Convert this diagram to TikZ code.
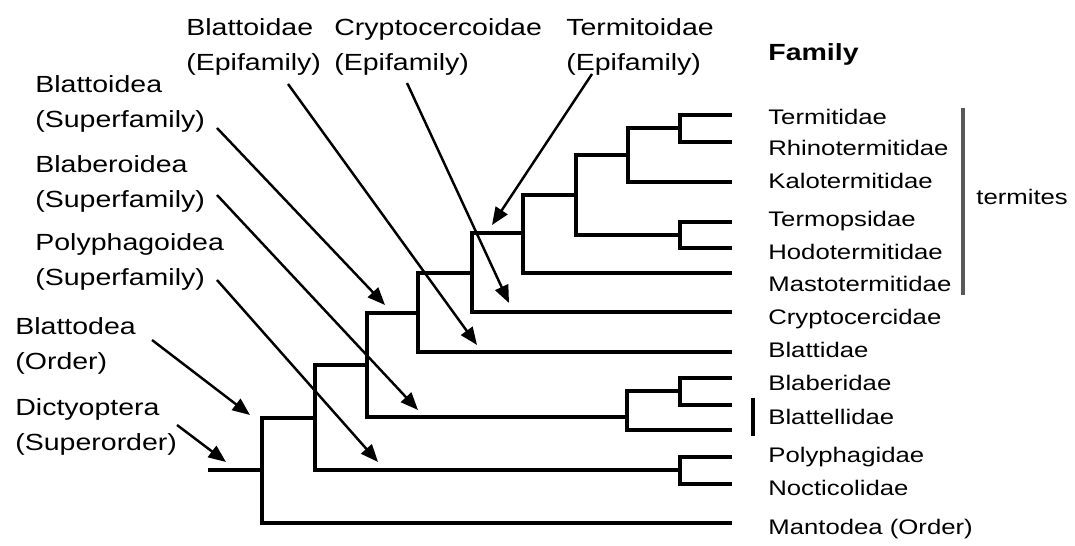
\documentclass[tikz,border=0pt]{standalone}
\usepackage{fontspec}
\setmainfont{Liberation Sans}[FakeStretch=1.22]
\usetikzlibrary{arrows.meta}

\begin{document}
\begin{tikzpicture}[x=0.02cm, y=-0.02cm,
  branch/.style={line width=2.2pt},
  pointer/.style={line width=1.4pt, -{Triangle[length=10pt,width=8pt]}},
  fam/.style={anchor=base west, inner sep=0pt, font=\fontsize{12}{14}\selectfont},
  clade/.style={anchor=north west, align=left, inner sep=0pt, font=\fontsize{13.3}{19.8}\selectfont}]
\useasboundingbox (0,0) rectangle (1075,546);

% leaf tips
\coordinate (t1) at (732,115);
\coordinate (t2) at (732,142);
\coordinate (t3) at (732,182);
\coordinate (t4) at (732,222);
\coordinate (t5) at (732,248);
\coordinate (t6) at (732,273);
\coordinate (t7) at (732,312);
\coordinate (t8) at (732,352);
\coordinate (t9) at (732,378);
\coordinate (t10) at (732,405);
\coordinate (t11) at (732,430);
\coordinate (t12) at (732,457);
\coordinate (t13) at (732,484);
\coordinate (t14) at (732,523);

% internal nodes
\coordinate (n1) at (680,128);
\coordinate (n2) at (628,155);
\coordinate (n3) at (680,235);
\coordinate (n4) at (576,195);
\coordinate (n5) at (523,233);
\coordinate (n6) at (472,273);
\coordinate (n7) at (418,313);
\coordinate (n8) at (680,391);
\coordinate (n9) at (627,417);
\coordinate (n10) at (367,365);
\coordinate (n11) at (680,470);
\coordinate (n12) at (315,418);
\coordinate (n13) at (262,470);
\coordinate (root) at (208,470);

\draw[branch] (n1) |- (t1);
\draw[branch] (n1) |- (t2);
\draw[branch] (n2) |- (n1);
\draw[branch] (n2) |- (t3);
\draw[branch] (n3) |- (t4);
\draw[branch] (n3) |- (t5);
\draw[branch] (n4) |- (n2);
\draw[branch] (n4) |- (n3);
\draw[branch] (n5) |- (n4);
\draw[branch] (n5) |- (t6);
\draw[branch] (n6) |- (n5);
\draw[branch] (n6) |- (t7);
\draw[branch] (n7) |- (n6);
\draw[branch] (n7) |- (t8);
\draw[branch] (n8) |- (t9);
\draw[branch] (n8) |- (t10);
\draw[branch] (n9) |- (n8);
\draw[branch] (n9) |- (t11);
\draw[branch] (n10) |- (n7);
\draw[branch] (n10) |- (n9);
\draw[branch] (n11) |- (t12);
\draw[branch] (n11) |- (t13);
\draw[branch] (n12) |- (n10);
\draw[branch] (n12) |- (n11);
\draw[branch] (n13) |- (n12);
\draw[branch] (n13) |- (t14);
\draw[branch] (root) -- (n13);

% family names
\node[fam, font=\bfseries\fontsize{13.3}{16}\selectfont] (family) at (768,61) {Family};
\node[fam] (termitidae) at (768,125) {Termitidae};
\node[fam] (rhinotermitidae) at (768,156) {Rhinotermitidae};
\node[fam] (kalotermitidae) at (768,189) {Kalotermitidae};
\node[fam] (termopsidae) at (768,227) {Termopsidae};
\node[fam] (hodotermitidae) at (768,260) {Hodotermitidae};
\node[fam] (mastotermitidae) at (768,292) {Mastotermitidae};
\node[fam] (cryptocercidae) at (768,325) {Cryptocercidae};
\node[fam] (blattidae) at (768,358) {Blattidae};
\node[fam] (blaberidae) at (768,391) {Blaberidae};
\node[fam] (blattellidae) at (768,425) {Blattellidae};
\node[fam] (polyphagidae) at (768,463) {Polyphagidae};
\node[fam] (nocticolidae) at (768,496) {Nocticolidae};
\node[fam] (mantodea) at (768,535) {Mantodea (Order)};
\node[fam] (termites) at (976,205) {termites};
\draw[line width=1.8pt, black!65] (963,108) -- (963,295);
\draw[line width=2.1pt] (753,398) -- (753,436);

% higher taxa
\node[clade] (blattoidae) at (186,18) {Blattoidae\\(Epifamily)};
\node[clade] (cryptocercoidae) at (334,18) {Cryptocercoidae\\(Epifamily)};
\node[clade] (termitoidae) at (566,18) {Termitoidae\\(Epifamily)};
\node[clade] (blattoidea) at (35,75) {Blattoidea\\(Superfamily)};
\node[clade] (blaberoidea) at (35,155) {Blaberoidea\\(Superfamily)};
\node[clade] (polyphagoidea) at (35,233) {Polyphagoidea\\(Superfamily)};
\node[clade] (blattodea) at (15,317) {Blattodea\\(Order)};
\node[clade] (dictyoptera) at (15,398) {Dictyoptera\\(Superorder)};

% arrows
\coordinate (s1) at (288,84);  \coordinate (e1) at (477,345);
\coordinate (s2) at (407,83);  \coordinate (e2) at (509,303);
\coordinate (s3) at (592,74);  \coordinate (e3) at (492,225);
\coordinate (s4) at (217,128); \coordinate (e4) at (385,305);
\coordinate (s5) at (217,195); \coordinate (e5) at (418,410);
\coordinate (s6) at (217,280); \coordinate (e6) at (378,462);
\coordinate (s7) at (152,340); \coordinate (e7) at (250,415);
\coordinate (s8) at (177,425); \coordinate (e8) at (226,462);
\draw[pointer] (s1) -- (e1);
\draw[pointer] (s2) -- (e2);
\draw[pointer] (s3) -- (e3);
\draw[pointer] (s4) -- (e4);
\draw[pointer] (s5) -- (e5);
\draw[pointer] (s6) -- (e6);
\draw[pointer] (s7) -- (e7);
\draw[pointer] (s8) -- (e8);
\end{tikzpicture}
\end{document}
